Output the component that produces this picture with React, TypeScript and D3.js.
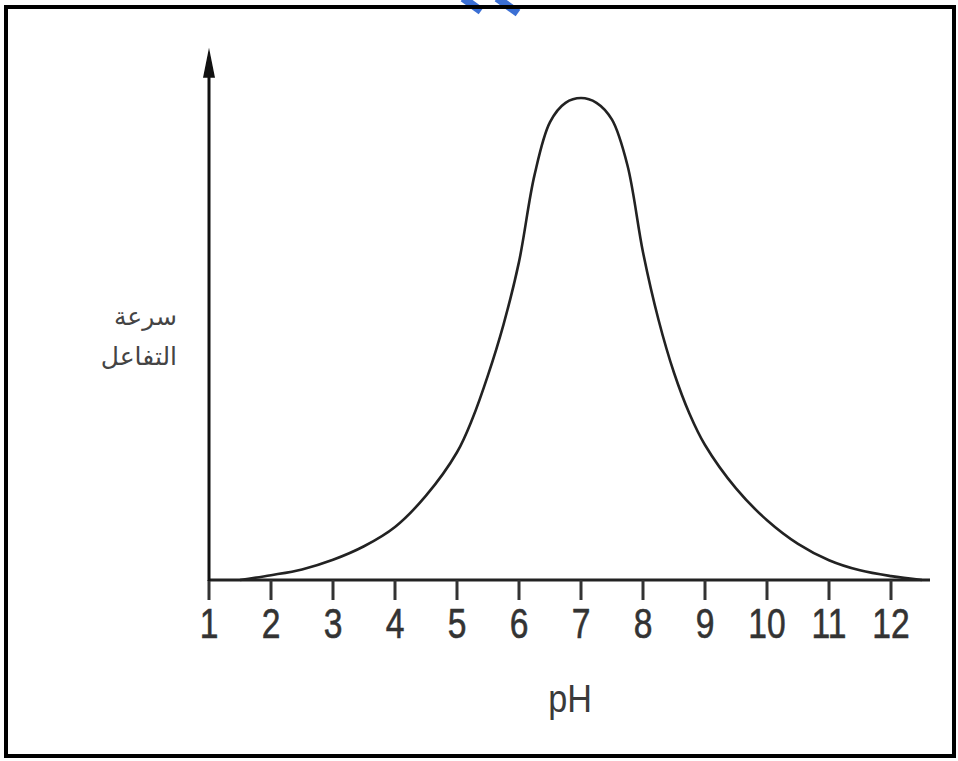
import React from "react";
import * as d3 from "d3";

// pH values along the curve and the relative reaction rate (peak = 1)
const phValues = [1.5, 2, 2.5, 3, 3.5, 4, 4.5, 5, 5.25, 5.5, 5.75, 6, 6.25, 6.5, 6.75, 7, 7.25, 7.5, 7.75, 8, 8.25, 8.5, 8.75, 9, 9.5, 10, 10.5, 11, 11.5, 12, 12.5];
const rateValues = [0, 0.01, 0.022, 0.042, 0.07, 0.11, 0.175, 0.265, 0.335, 0.425, 0.53, 0.66, 0.84, 0.95, 0.99, 1.0, 0.99, 0.955, 0.86, 0.68, 0.54, 0.43, 0.345, 0.28, 0.19, 0.124, 0.075, 0.041, 0.02, 0.008, 0];
const tickLabels = [1, 2, 3, 4, 5, 6, 7, 8, 9, 10, 11, 12];
const yLabelLines = ["سرعة", "التفاعل"];
const xLabel = "pH";

const W = 958;
const H = 761;

const App = () => {
  const x = d3.scaleLinear().domain([1, 12]).range([209, 891]);
  const y = d3.scaleLinear().domain([0, 1]).range([580, 98]);

  const points = phValues.map((p, i) => [p, rateValues[i]] as [number, number]);
  const line = d3
    .line<[number, number]>()
    .x((d) => x(d[0]))
    .y((d) => Math.min(y(0), y(d[1])))
    .curve(d3.curveCatmullRom.alpha(0.5));

  const x0 = x(1);
  const y0 = y(0);
  const yTop = y(1.104);

  return (
    <svg
      width={W}
      height={H}
      style={{ position: "absolute", left: 0, top: 0, background: "#fff" }}
    >
      {/* stray blue mark cut off at the top */}
      <line x1={463} y1={-2} x2={481} y2={11} stroke="#3b6fd4" strokeWidth={8} />
      <line x1={497} y1={-2} x2={518} y2={13} stroke="#3b6fd4" strokeWidth={8} />

      {/* frame */}
      <rect x={6} y={7} width={948} height={749} fill="none" stroke="#000" strokeWidth={4} />

      {/* curve */}
      <path d={line(points) || ""} fill="none" stroke="#222" strokeWidth={2.6} />

      {/* x axis */}
      <line x1={x0} y1={y0} x2={930} y2={y0} stroke="#222" strokeWidth={3} />
      {tickLabels.map((t) => (
        <g key={t}>
          <line x1={x(t)} y1={y0} x2={x(t)} y2={y0 + 20} stroke="#333" strokeWidth={3} />
          <text
            transform={`translate(${x(t)},638) scale(0.8,1)`}
            textAnchor="middle"
            fontFamily="Liberation Sans, Arial, sans-serif"
            fontSize={42}
            fill="#333"
            stroke="#333"
            strokeWidth={0.6}
          >
            {t}
          </text>
        </g>
      ))}

      {/* y axis with arrow */}
      <line x1={x0} y1={y0 + 1} x2={x0} y2={yTop + 25} stroke="#111" strokeWidth={3} />
      <path
        d={`M${x0},${yTop} L${x0 + 6},${yTop + 30} L${x0 - 6},${yTop + 30} Z`}
        fill="#111"
      />

      {/* axis titles */}
      <text
        transform="translate(570,712) scale(0.9,1)"
        textAnchor="middle"
        fontFamily="Liberation Sans, Arial, sans-serif"
        fontSize={38}
        fill="#3a3a3a"
      >
        {xLabel}
      </text>
      {yLabelLines.map((s, i) => (
        <text
          key={s}
          x={177}
          y={325 + i * 40}
          textAnchor="end"
          fontFamily="DejaVu Sans, sans-serif"
          fontSize={25}
          fill="#444"
        >
          {s}
        </text>
      ))}
    </svg>
  );
};

export default App;
